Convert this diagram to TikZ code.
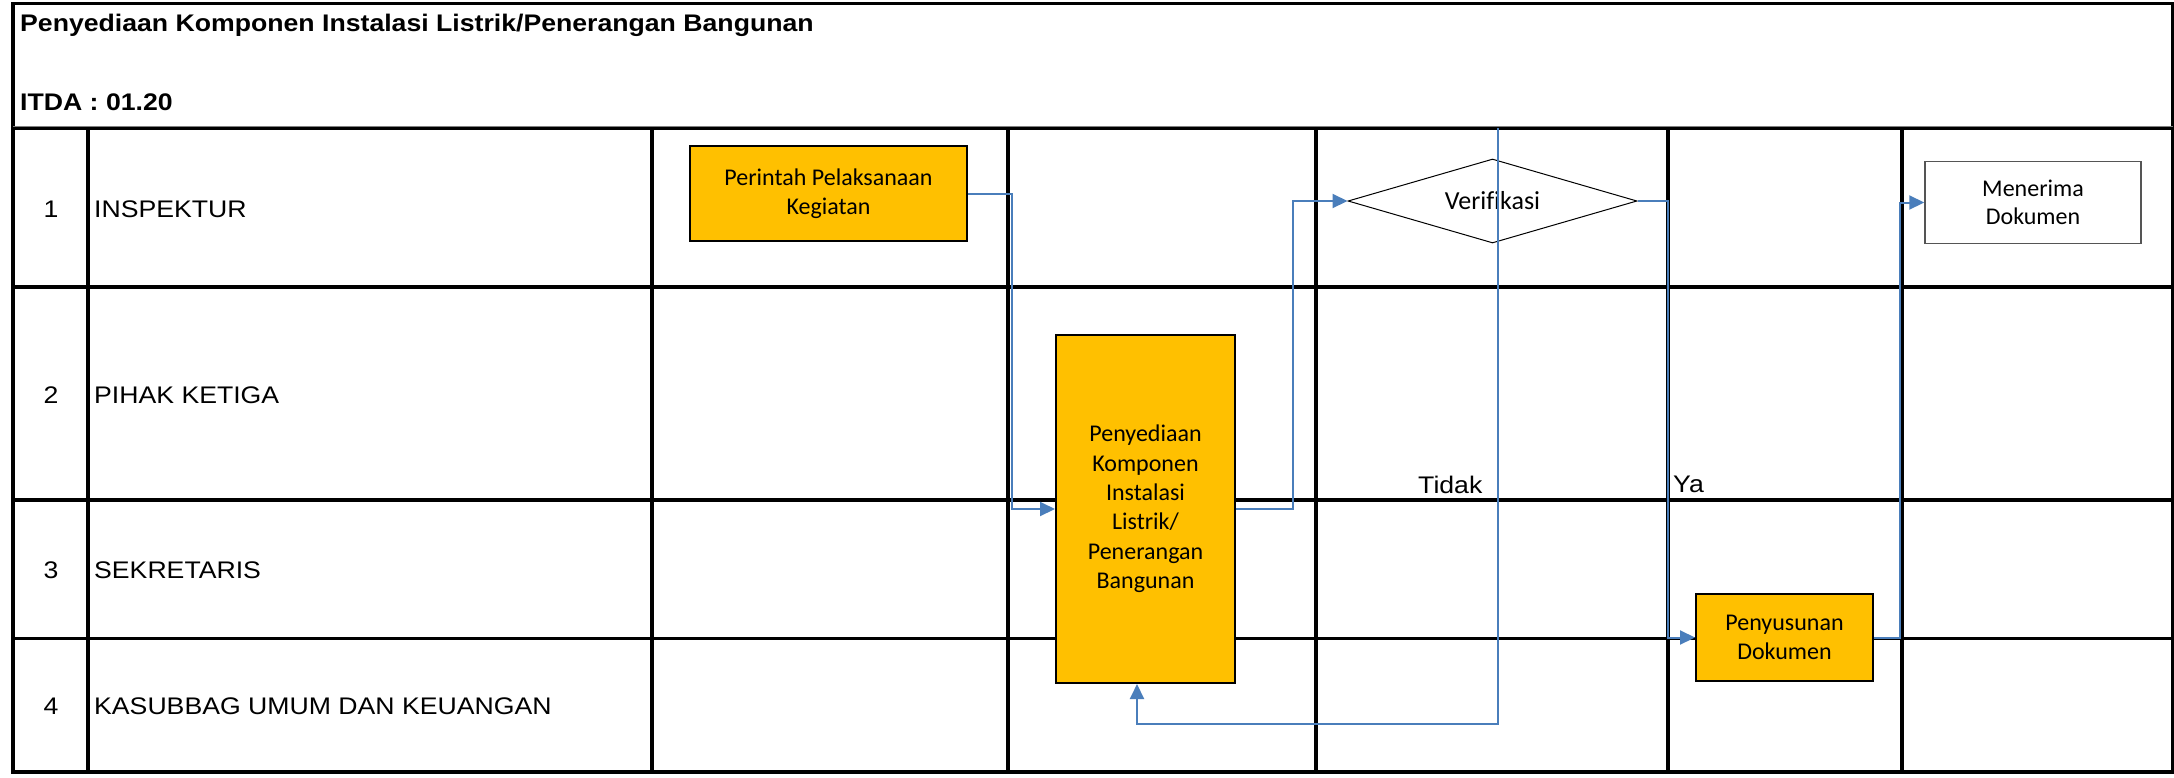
\documentclass[tikz,border=0pt]{standalone}
\usepackage{fontspec}
\setmainfont{Liberation Sans}
% Arial-like face, slightly widened, for the table texts
\newfontfamily\tablefont[FakeStretch=1.11]{Liberation Sans}
% Calibri-like face for the flowchart boxes
\newfontfamily\boxfont{Carlito}
\newfontfamily\decidefont[Ligatures=NoCommon]{Carlito}
\usetikzlibrary{shapes.geometric,arrows.meta}
\definecolor{procfill}{HTML}{FFC000}
\definecolor{flowblue}{HTML}{4A7EBB}
\definecolor{plainedge}{HTML}{555555}

\begin{document}
\begin{tikzpicture}[x=1pt,y=-1pt,
  grid/.style={line width=3.3pt, draw=black},
  tabtext/.style={font=\tablefont\fontsize{24}{29}\selectfont, inner sep=0pt},
  proc/.style={draw=black, line width=2pt, fill=procfill, align=center,
    inner sep=0pt, font=\boxfont\fontsize{24}{29.4}\selectfont},
  plainbox/.style={draw=plainedge, line width=1.5pt, fill=white, align=center,
    inner sep=0pt, font=\boxfont\fontsize{24}{28.6}\selectfont},
  decide/.style={diamond, draw=black, line width=1pt, aspect=3.44,
    inner sep=0pt, font=\decidefont\fontsize{26}{30}\selectfont},
  flow/.style={draw=flowblue, line width=2pt, -{Triangle[length=15pt,width=14pt]}},
]
\fill[white] (0,0) rectangle (2174,777);
\useasboundingbox (0,0) rectangle (2174,777);

% table frame, header and swimlanes
\draw[grid] (13,3.5) rectangle (2173,772);
\draw[grid] (13,128) -- (2173,128);
\draw[gray, line width=1pt] (13,126) -- (2173,126);
\foreach \yy in {287,500,638.7}
  \draw[grid] (13,\yy) -- (2173,\yy);
\foreach \xx in {88,652,1008,1316,1668,1902}
  \draw[grid] (\xx,128) -- (\xx,772);

% header texts
\node[tabtext, font=\tablefont\bfseries\fontsize{24}{29}\selectfont, anchor=base west] (title) at (20,31)
  {Penyediaan Komponen Instalasi Listrik/Penerangan Bangunan};
\node[tabtext, font=\tablefont\bfseries\fontsize{24}{29}\selectfont, anchor=base west] (code) at (20,110)
  {ITDA : 01.20};

% lane numbers and names
\node[tabtext] (n1) at (51,209) {1};
\node[tabtext, anchor=west] (l1) at (94,209) {INSPEKTUR};
\node[tabtext] (n2) at (51,395) {2};
\node[tabtext, anchor=west] (l2) at (94,395) {PIHAK KETIGA};
\node[tabtext] (n3) at (51,570.5) {3};
\node[tabtext, anchor=west] (l3) at (94,570.5) {SEKRETARIS};
\node[tabtext] (n4) at (51,706.5) {4};
\node[tabtext, anchor=west] (l4) at (94,706.5) {KASUBBAG UMUM DAN KEUANGAN};

% flowchart steps
\node[proc, minimum width=277pt, minimum height=95pt] (perintah) at (828.5,193.5)
  {Perintah Pelaksanaan\\Kegiatan};
\node[proc, minimum width=179pt, minimum height=348pt] (penyediaan) at (1145.5,509)
  {Penyediaan\\Komponen\\Instalasi\\Listrik/\\Penerangan\\Bangunan};
\node[decide, minimum width=289pt, minimum height=84pt] (verif) at (1492.5,201)
  {Verifikasi};
\node[proc, minimum width=177pt, minimum height=87pt] (penyusunan) at (1784.5,637.5)
  {Penyusunan\\Dokumen};
\node[plainbox, minimum width=216pt, minimum height=82pt] (menerima) at (2033,202.5)
  {Menerima\\Dokumen};

% branch labels
\node[tabtext, anchor=base west] (tidak) at (1418,493) {Tidak};
\node[tabtext, anchor=base west] (ya) at (1673,492) {Ya};

% connectors
\draw[flow] (perintah.east) -- ++(44,0) |- (penyediaan.west);
\draw[flow] (penyediaan.east) -- ++(57,0) |- (verif.west);
\draw[flow] (verif.east) -- ++(30,0) |- (penyusunan.west);
\draw[flow] (penyusunan.east) -- ++(26,0) |- (menerima.west);
\coordinate (backtop) at (1498,128);
\coordinate (backturn) at (1498,724);
\draw[flow] (backtop) -- (backturn) -| ([xshift=-8.5pt]penyediaan.south);
\end{tikzpicture}
\end{document}
